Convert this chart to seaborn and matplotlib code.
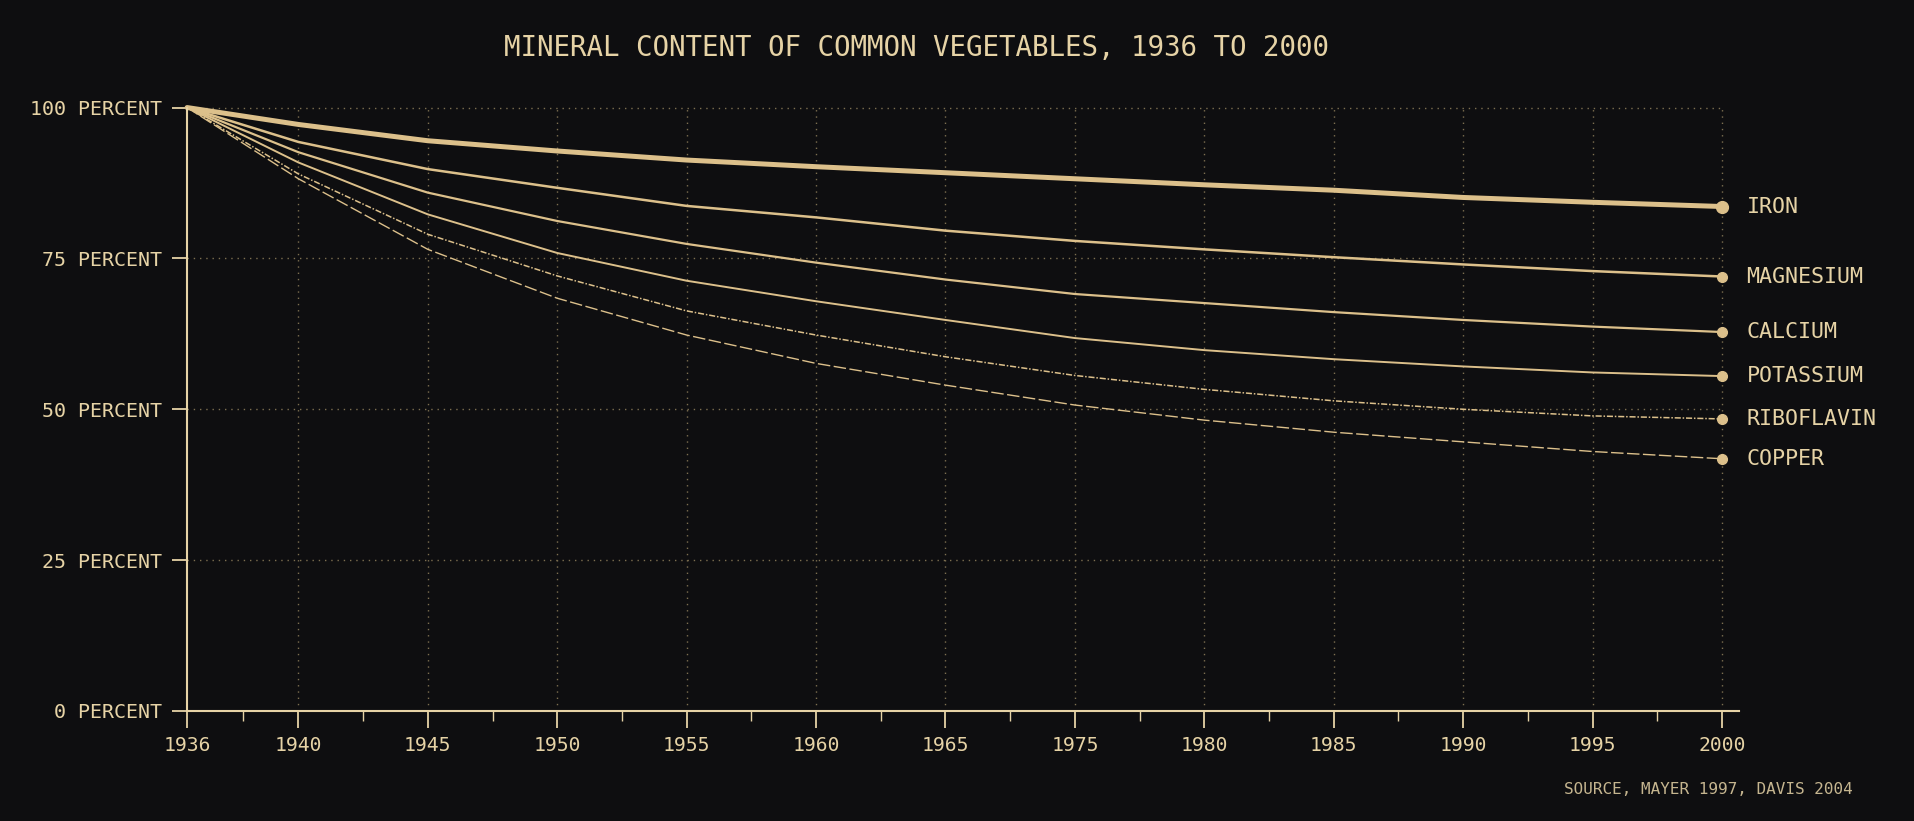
import numpy as np
import pandas as pd
import matplotlib
matplotlib.use('Agg')
import matplotlib.pyplot as plt
import seaborn as sns

# data (percent of 1936 level)
YEARS = [1936, 1940, 1945, 1950, 1955, 1960, 1965, 1975, 1980, 1985, 1990, 1995, 2000]
NAMES = ['IRON', 'MAGNESIUM', 'CALCIUM', 'POTASSIUM', 'RIBOFLAVIN', 'COPPER']
iron = [100, 97.2, 94.5, 92.8, 91.3, 90.2, 89.2, 88.2, 87.2, 86.3, 85.1, 84.3, 83.6]
magnesium = [100, 94.3, 89.8, 86.7, 83.7, 81.8, 79.6, 77.9, 76.5, 75.2, 74.0, 72.9, 72.0]
calcium = [100, 92.6, 85.9, 81.2, 77.4, 74.3, 71.5, 69.1, 67.6, 66.1, 64.8, 63.7, 62.8]
potassium = [100, 90.9, 82.3, 75.9, 71.3, 67.9, 64.8, 61.8, 59.8, 58.3, 57.1, 56.1, 55.5]
riboflavin = [100, 89.0, 79.0, 72.1, 66.3, 62.3, 58.7, 55.6, 53.3, 51.4, 50.0, 48.9, 48.4]
copper = [100, 88.2, 76.5, 68.4, 62.3, 57.6, 54.0, 50.7, 48.2, 46.2, 44.6, 43.0, 41.8]
Y_TICKS = [0, 25, 50, 75, 100]
TITLE = 'MINERAL CONTENT OF COMMON VEGETABLES, 1936 TO 2000'
SOURCE = 'SOURCE, MAYER 1997, DAVIS 2004'

BG = '#0e0e10'
GOLD = '#dcc08b'
TEXT = '#e6d3a6'
GRID = '#7d6f50'
MONO = ['DejaVu Sans Mono']

# the axis is a loose ordinal scale: one step per label, shorter first step
pos = np.concatenate([[0], np.cumsum(np.minimum(np.diff(YEARS), 5) / 5)])
pos[1:] += 0.06

series = [iron, magnesium, calcium, potassium, riboflavin, copper]
df = pd.DataFrame({'pos': np.tile(pos, len(NAMES)),
                   'value': np.concatenate(series),
                   'name': np.repeat(NAMES, len(YEARS))})

styles = {
    'IRON':       dict(lw=3.6, ls='-', ms=8.5),
    'MAGNESIUM':  dict(lw=1.8, ls='-', ms=7),
    'CALCIUM':    dict(lw=1.6, ls='-', ms=7),
    'POTASSIUM':  dict(lw=1.4, ls='-', ms=7),
    'RIBOFLAVIN': dict(lw=1.1, ls=(0, (4, 1.2, 1, 1.2)), ms=7),
    'COPPER':     dict(lw=1.0, ls=(0, (9, 2.5)), ms=7),
}

sns.set_style('dark')
plt.rcParams['font.family'] = MONO

fig = plt.figure(figsize=(19.15, 8.21), dpi=100, facecolor=BG)
ax = fig.add_axes([0.0977, 0.134, 0.8103, 0.735])
ax.set_facecolor(BG)

x_end = pos[-1]
ax.set_xlim(0, x_end + 0.13)
ax.set_ylim(0, 100)

# dotted grid, drawn only up to the 2000 column
dot = (0, (1, 3.5))
for v in Y_TICKS[1:]:
    ax.plot([0, x_end], [v, v], color=GRID, lw=1.0, ls=dot, zorder=1, clip_on=False)
for p in pos[1:]:
    ax.plot([p, p], [0, 100], color=GRID, lw=1.0, ls=dot, zorder=1, clip_on=False)

for name in NAMES:
    st = styles[name]
    sub = df[df['name'] == name]
    sns.lineplot(data=sub, x='pos', y='value', ax=ax, color=GOLD, lw=st['lw'],
                 linestyle=st['ls'], errorbar=None, legend=False, zorder=3,
                 clip_on=False)
    last = sub['value'].iloc[-1]
    ax.plot(x_end, last, 'o', color=GOLD, ms=st['ms'], zorder=4, clip_on=False)
    ax.text(x_end + 0.19, last, name, color=TEXT, fontsize=15.6, va='center',
            ha='left', family=MONO)

# axes styling
for side in ['top', 'right']:
    ax.spines[side].set_visible(False)
for side in ['left', 'bottom']:
    ax.spines[side].set_color(TEXT)
    ax.spines[side].set_linewidth(1.5)
    ax.spines[side].set_zorder(5)

ax.set_xticks(pos)
ax.set_xticklabels([str(y) for y in YEARS])
ax.set_xticks((pos[:-1] + pos[1:]) / 2, minor=True)
ax.set_yticks(Y_TICKS)
ax.set_yticklabels([f'{v} PERCENT' for v in Y_TICKS])
ax.tick_params(axis='x', which='major', direction='out', length=12, width=1.3,
               color=TEXT, labelcolor=TEXT, labelsize=14.2, pad=6, bottom=True)
ax.tick_params(axis='x', which='minor', direction='out', length=7, width=1.0,
               color=TEXT, bottom=True)
ax.tick_params(axis='y', which='major', direction='out', length=11, width=1.3,
               color=TEXT, labelcolor=TEXT, labelsize=14.4, pad=7, left=True)
ax.grid(False)
ax.set_xlabel('')
ax.set_ylabel('')

fig.text(0.4786, 0.942, TITLE, color=TEXT, fontsize=19.8, ha='center', va='center',
         family=MONO)
fig.text(0.9676, 0.038, SOURCE, color=TEXT, fontsize=11.5, ha='right', va='center',
         family=MONO, alpha=0.85)

plt.savefig('out.png', dpi=100, facecolor=BG)
plt.close()
